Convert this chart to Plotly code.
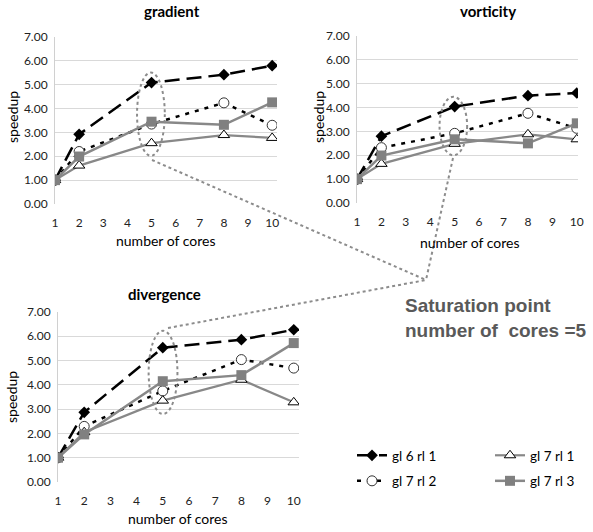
import plotly.graph_objects as go

W, H = 593, 532

cores = [1, 2, 5, 8, 10]
x_ticks = list(range(1, 11))
y_ticks = [0, 1, 2, 3, 4, 5, 6, 7]
panels = ["gradient", "vorticity", "divergence"]
series_names = ["gl 6 rl 1", "gl 7 rl 2", "gl 7 rl 1", "gl 7 rl 3"]

gradient_gl6rl1 = [1.00, 2.92, 5.09, 5.42, 5.80]
gradient_gl7rl2 = [1.00, 2.20, 3.35, 4.24, 3.30]
gradient_gl7rl1 = [1.00, 1.61, 2.55, 2.89, 2.77]
gradient_gl7rl3 = [1.00, 1.99, 3.45, 3.32, 4.26]

vorticity_gl6rl1 = [1.00, 2.80, 4.04, 4.50, 4.61]
vorticity_gl7rl2 = [1.00, 2.32, 2.92, 3.76, 3.13]
vorticity_gl7rl1 = [1.00, 1.64, 2.48, 2.88, 2.67]
vorticity_gl7rl3 = [1.00, 1.99, 2.67, 2.50, 3.34]

divergence_gl6rl1 = [1.00, 2.87, 5.53, 5.86, 6.27]
divergence_gl7rl2 = [1.00, 2.29, 3.75, 5.04, 4.69]
divergence_gl7rl1 = [1.00, 2.05, 3.35, 4.21, 3.28]
divergence_gl7rl3 = [1.00, 1.96, 4.15, 4.40, 5.72]

data = {
    "gradient": [gradient_gl6rl1, gradient_gl7rl2, gradient_gl7rl1, gradient_gl7rl3],
    "vorticity": [vorticity_gl6rl1, vorticity_gl7rl2, vorticity_gl7rl1, vorticity_gl7rl3],
    "divergence": [divergence_gl6rl1, divergence_gl7rl2, divergence_gl7rl1, divergence_gl7rl3],
}

GRAY = "#888888"
styles = [
    dict(line=dict(color="black", width=2.5, dash="15px,7px"),
         marker=dict(symbol="diamond", size=9, color="black")),
    dict(line=dict(color="black", width=2.5, dash="4px,6px"),
         marker=dict(symbol="circle", size=10, color="white", line=dict(color="#333333", width=1))),
    dict(line=dict(color=GRAY, width=2.2),
         marker=dict(symbol="triangle-up", size=10, color="white", line=dict(color="black", width=1))),
    dict(line=dict(color=GRAY, width=2.5),
         marker=dict(symbol="square", size=10, color="#808080")),
]
legend_of = ["legend", "legend", "legend2", "legend2"]

def px_x(p):
    return p / W

def px_y(p):
    return 1 - p / H

# plot areas in pixels (left, right, top, bottom) and x ranges
areas = {
    "gradient": (55, 277, 37, 204),
    "vorticity": (357, 578, 36, 203),
    "divergence": (58, 299, 312, 482),
}
x_ranges = {"gradient": [1, 10.2], "vorticity": [1, 10.05], "divergence": [1, 10.2]}
axis_ids = {"gradient": ("x", "y"), "vorticity": ("x2", "y2"), "divergence": ("x3", "y3")}

fig = go.Figure()

for pi, panel in enumerate(panels):
    xa, ya = axis_ids[panel]
    for si, name in enumerate(series_names):
        fig.add_trace(go.Scatter(
            x=cores, y=data[panel][si], mode="lines+markers", name=name,
            xaxis=xa, yaxis=ya, showlegend=(pi == 0), legend=legend_of[si],
            legendgroup=name,
            line=styles[si]["line"], marker=styles[si]["marker"],
        ))

FONT = "Lato, Carlito, Calibri, sans-serif"
layout = dict(
    width=W, height=H, margin=dict(l=0, r=0, t=0, b=0, autoexpand=False),
    paper_bgcolor="white", plot_bgcolor="white",
    font=dict(family=FONT, size=12, color="#222222"),
)
for panel in panels:
    xa, ya = axis_ids[panel]
    l, r, t, b = areas[panel]
    xkey = "xaxis" + xa[1:]
    ykey = "yaxis" + ya[1:]
    layout[xkey] = dict(
        domain=[px_x(l), px_x(r)], range=x_ranges[panel], anchor=ya,
        tickvals=x_ticks, ticktext=[str(v) for v in x_ticks],
        showgrid=False, zeroline=False, showline=False, automargin=False,
        tickfont=dict(size=12, family=FONT, color="#222222"), ticks="",
        ticklabelstandoff=10,
    )
    layout[ykey] = dict(
        domain=[px_y(b), px_y(t)], range=[0, 7.0], anchor=xa,
        tickvals=y_ticks, tickformat=".2f", automargin=False,
        showgrid=True, gridcolor="#d9d9d9", gridwidth=1, zeroline=False,
        showline=True, linecolor="#d0d0d0", linewidth=1,
        tickfont=dict(size=12, family=FONT, color="#222222"), ticks="",
        ticklabelstandoff=4,
    )
fig.update_layout(**layout)

# panel titles and axis titles (pixel positions of text centres)
title_pos = {"gradient": (172, 11), "vorticity": (488, 11), "divergence": (164, 294)}
xtitle_pos = {"gradient": (166, 240), "vorticity": (470, 242), "divergence": (178, 518)}
ytitle_pos = {"gradient": (12, 117), "vorticity": (318, 117), "divergence": (11, 397)}
annotations = []
for panel in panels:
    tx, ty = title_pos[panel]
    annotations.append(dict(text="<b>" + panel + "</b>", x=px_x(tx), y=px_y(ty),
                            xref="paper", yref="paper", showarrow=False,
                            xanchor="center", yanchor="middle",
                            font=dict(size=15, family=FONT, color="black")))
    ax_, ay_ = xtitle_pos[panel]
    annotations.append(dict(text="number of cores", x=px_x(ax_), y=px_y(ay_),
                            xref="paper", yref="paper", showarrow=False,
                            xanchor="center", yanchor="middle",
                            font=dict(size=14, family=FONT, color="black")))
    sx_, sy_ = ytitle_pos[panel]
    annotations.append(dict(text="speedup", x=px_x(sx_), y=px_y(sy_),
                            xref="paper", yref="paper", showarrow=False, textangle=-90,
                            xanchor="center", yanchor="middle",
                            font=dict(size=14, family=FONT, color="black")))
annotations.append(dict(
    text="<b>Saturation point<br>number of\u00a0 cores =5</b>", x=px_x(403), y=px_y(318),
    xref="paper", yref="paper", showarrow=False, xanchor="left", yanchor="middle",
    align="left",
    font=dict(size=19, family="Liberation Sans, Arial, sans-serif", color="#595959"),
))
fig.update_layout(annotations=annotations)

# dotted ellipses around the saturation point (data coordinates)
ellipses = {
    "gradient": (4.40, 5.55, 2.02, 5.51),
    "vorticity": (4.38, 5.51, 2.00, 4.45),
    "divergence": (4.46, 5.56, 2.80, 6.23),
}
shapes = []
for panel in panels:
    xa, ya = axis_ids[panel]
    x0, x1, y0, y1 = ellipses[panel]
    shapes.append(dict(type="circle", xref=xa, yref=ya, x0=x0, x1=x1, y0=y0, y1=y1,
                       line=dict(color="#8c8c8c", width=2, dash="dot")))
hub = (426, 280)
for (sx, sy) in [(152, 160), (453, 158), (168, 328)]:
    shapes.append(dict(type="line", xref="paper", yref="paper",
                       x0=px_x(sx), y0=px_y(sy), x1=px_x(hub[0]), y1=px_y(hub[1]),
                       line=dict(color="#8c8c8c", width=2, dash="dot")))
fig.update_layout(shapes=shapes)

legend_common = dict(
    orientation="v", xanchor="left", yanchor="top", bgcolor="rgba(0,0,0,0)",
    font=dict(size=13.5, family=FONT, color="black"), tracegroupgap=5,
    itemwidth=30,
)
fig.update_layout(
    legend=dict(x=px_x(352), y=px_y(440), **legend_common),
    legend2=dict(x=px_x(490), y=px_y(440), **legend_common),
)

fig.write_html(
    "out.html",
    config={"displayModeBar": False},
    post_script="document.body.style.margin='0px';document.body.style.overflow='hidden';",
)
